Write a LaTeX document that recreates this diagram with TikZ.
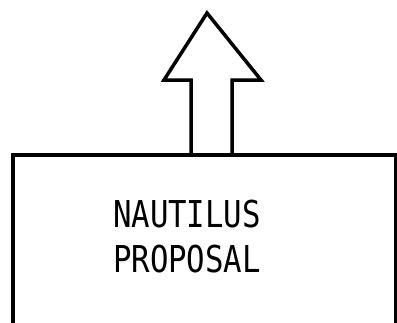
\documentclass[tikz,border=0pt]{standalone}
\usepackage{fontspec}
\newfontfamily\letterfont[FakeStretch=0.83]{DejaVu Sans Mono}
\usetikzlibrary{positioning}

\begin{document}
\begin{tikzpicture}[x=1pt, y=-1pt, line width=3.5pt, line join=miter]
  \useasboundingbox (0,0) rectangle (397,322);
  \clip (0,0) rectangle (397,322);
  % box, open at the bottom of the sheet
  \node[draw, minimum width=383pt, minimum height=230pt,
        anchor=north west, inner sep=0pt] (box) at (11,153) {};
  \node[font=\letterfont\fontsize{37}{45}\selectfont, align=center,
        inner sep=0pt] (title) at (187,237) {NAUTILUS\\PROPOSAL};
  % hollow arrow standing on the box
  \coordinate (foot) at (211,153);
  \draw ([xshift=-20pt]foot) -- ++(0,-73) -- ++(-27,0)
        -- (207,13) -- (261,80) -- ++(-29,0) -- ([xshift=21pt]foot);
\end{tikzpicture}
\end{document}
